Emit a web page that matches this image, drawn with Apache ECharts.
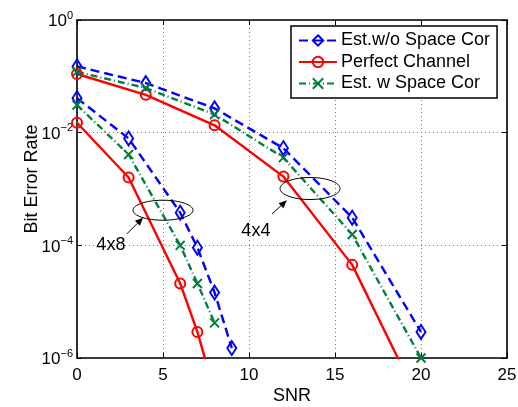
<!DOCTYPE html>
<html>
<head>
<meta charset="utf-8">
<script src="https://cdn.jsdelivr.net/npm/echarts@6/dist/echarts.min.js"></script>
<style>
  html, body { margin: 0; padding: 0; background: #fff; }
  #main { width: 518px; height: 407px; }
</style>
</head>
<body>
<div id="main"></div>
<script>
// 4x8 system
const snr4x8 = [0, 3, 6, 7, 8, 9];
const noCor4x8 = [0.041, 7.9e-3, 3.8e-4, 9.1e-5, 1.45e-5, 1.5e-6];
const snr4x8b = [0, 3, 6, 7, 8];
const perfect4x8 = [0.015, 1.6e-3, 2.1e-5, 2.9e-6, 2.5e-7];
const spaceCor4x8 = [0.031, 4.1e-3, 1.0e-4, 2.1e-5, 4.2e-6];

// 4x4 system
const snr4x4 = [0, 4, 8, 12, 16, 20];
const noCor4x4 = [0.15, 0.076, 0.027, 5.3e-3, 3.1e-4, 2.9e-6];
const perfect4x4 = [0.11, 0.047, 0.0135, 1.66e-3, 4.5e-5, 1.45e-7];
const spaceCor4x4 = [0.12, 0.062, 0.021, 3.6e-3, 1.56e-4, 1.0e-6];

const xTicks = [0, 5, 10, 15, 20, 25];
const yExponents = [0, -2, -4, -6];

const names = ['Est.w/o Space Cor', 'Perfect Channel', 'Est. w Space Cor'];

var font = 'Liberation Sans, Arial, Helvetica, sans-serif';
var chart = echarts.init(document.getElementById('main'));

function pairs(xs, ys) {
  return xs.map(function (x, i) { return [x, ys[i]]; });
}

var styles = {
  noCor: {
    color: '#0000ff', symbol: 'diamond', symbolSize: [9, 14],
    line: { color: '#0000ff', width: 2.4, type: [9, 5] }
  },
  perfect: {
    color: '#ff0000', symbol: 'circle', symbolSize: 10,
    line: { color: '#ff0000', width: 2.4, type: 'solid' }
  },
  spaceCor: {
    color: '#00803f', symbol: 'path://M0,0L10,10M10,0L0,10', symbolSize: 9,
    line: { color: '#00803f', width: 2.4, type: [7, 3, 1, 3] }
  }
};

function makeSeries(name, st, data) {
  return {
    name: name,
    type: 'line',
    data: data,
    symbol: st.symbol,
    symbolSize: st.symbolSize,
    showAllSymbol: true,
    clip: true,
    lineStyle: st.line,
    itemStyle: { color: 'rgba(0,0,0,0)', borderColor: st.color, borderWidth: 2 },
    emphasis: { disabled: true },
    animation: false
  };
}

var series = [
  makeSeries(names[0], styles.noCor, pairs(snr4x4, noCor4x4)),
  makeSeries(names[1], styles.perfect, pairs(snr4x4, perfect4x4)),
  makeSeries(names[2], styles.spaceCor, pairs(snr4x4, spaceCor4x4)),
  makeSeries(names[0], styles.noCor, pairs(snr4x8, noCor4x8)),
  makeSeries(names[1], styles.perfect, pairs(snr4x8b, perfect4x8)),
  makeSeries(names[2], styles.spaceCor, pairs(snr4x8b, spaceCor4x8))
];

var gridLine = { show: true, lineStyle: { color: '#777', type: [1, 3], width: 1 } };
var axisLine = { show: true, onZero: false, lineStyle: { color: '#000', width: 1.6 } };
var tick = { show: true, inside: true, length: 5, lineStyle: { color: '#000', width: 1 } };

var option = {
  animation: false,
  backgroundColor: '#fff',
  grid: { left: 77, right: 11, top: 20, bottom: 49, containLabel: false, outerBoundsMode: 'none' },
  legend: {
    data: names,
    orient: 'vertical',
    left: 291,
    top: 26,
    padding: [4, 7, 4, 7],
    itemWidth: 38,
    itemHeight: 13,
    itemGap: 0.5,
    backgroundColor: '#fff',
    borderColor: '#000',
    borderWidth: 1.5,
    borderRadius: 0,
    selectedMode: false,
    textStyle: { fontFamily: font, fontSize: 18, color: '#000', lineHeight: 21, padding: [0, 0, 0, -1] }
  },
  xAxis: [{
    type: 'value',
    min: xTicks[0],
    max: xTicks[xTicks.length - 1],
    interval: 5,
    name: 'SNR',
    nameLocation: 'middle',
    nameGap: 29,
    nameMoveOverlap: false,
    nameTextStyle: { fontFamily: font, fontSize: 18, color: '#000' },
    axisLine: axisLine,
    axisTick: tick,
    splitLine: gridLine,
    axisLabel: { fontFamily: font, fontSize: 17, color: '#000', margin: 9 }
  }, {
    type: 'value',
    position: 'top',
    min: xTicks[0],
    max: xTicks[xTicks.length - 1],
    interval: 5,
    axisLine: axisLine,
    axisTick: tick,
    splitLine: { show: false },
    axisLabel: { show: false }
  }],
  yAxis: [{
    type: 'log',
    logBase: 10,
    min: Math.pow(10, yExponents[yExponents.length - 1]),
    max: Math.pow(10, yExponents[0]),
    interval: 2,
    name: 'Bit Error Rate',
    nameLocation: 'middle',
    nameGap: 36,
    nameMoveOverlap: false,
    nameTextStyle: { fontFamily: font, fontSize: 18, color: '#000', padding: [0, 0, 0, 20] },
    axisLine: axisLine,
    axisTick: tick,
    splitLine: gridLine,
    minorTick: { show: false },
    axisLabel: {
      margin: 4,
      formatter: function (v) {
        var e = Math.round(Math.log10(v));
        return '{b|10}{s|' + (e === 0 ? '0' : '\u2212' + (-e)) + '}';
      },
      rich: {
        b: { fontFamily: font, fontSize: 17, color: '#000', lineHeight: 20, verticalAlign: 'bottom' },
        s: { fontFamily: font, fontSize: 11, color: '#000', lineHeight: 20, verticalAlign: 'top', padding: [0, 0, 6, 0] }
      }
    }
  }, {
    type: 'log',
    logBase: 10,
    position: 'right',
    min: Math.pow(10, yExponents[yExponents.length - 1]),
    max: Math.pow(10, yExponents[0]),
    interval: 2,
    axisLine: axisLine,
    axisTick: tick,
    splitLine: { show: false },
    axisLabel: { show: false }
  }],
  series: series
};

chart.setOption(option);

// annotations in data coordinates: ellipse centre, arrow tail/head, label
const notes = [
  { label: '4x8', cx: 5.0, cy: 4.2e-4, rx: 30, ry: 10, tail: [2.9, 1.6e-4], head: [3.84, 3.1e-4], text: [1.97, 1.02e-4] },
  { label: '4x4', cx: 13.55, cy: 1.02e-3, rx: 30, ry: 11, tail: [11.34, 3.6e-4], head: [12.2, 6.3e-4], text: [10.4, 1.8e-4] }
];

function px(p) { return chart.convertToPixel({ xAxisIndex: 0, yAxisIndex: 0 }, p); }

var graphics = [];
notes.forEach(function (n) {
  var c = px([n.cx, n.cy]);
  graphics.push({
    type: 'ellipse', silent: true,
    shape: { cx: c[0], cy: c[1], rx: n.rx, ry: n.ry },
    style: { fill: 'none', stroke: '#000', lineWidth: 1 }, z: 10
  });
  var t = px(n.tail), h = px(n.head);
  var ang = Math.atan2(h[1] - t[1], h[0] - t[0]);
  var L = 8, W = 3.5;
  var bx = h[0] - L * Math.cos(ang), by = h[1] - L * Math.sin(ang);
  graphics.push({
    type: 'line', silent: true,
    shape: { x1: t[0], y1: t[1], x2: bx, y2: by },
    style: { stroke: '#000', lineWidth: 1 }, z: 10
  });
  graphics.push({
    type: 'polygon', silent: true,
    shape: { points: [
      [h[0], h[1]],
      [bx + W * Math.sin(ang), by - W * Math.cos(ang)],
      [bx - W * Math.sin(ang), by + W * Math.cos(ang)]
    ] },
    style: { fill: '#000' }, z: 10
  });
  var tp = px(n.text);
  graphics.push({
    type: 'text', silent: true, x: tp[0], y: tp[1],
    style: { text: n.label, fontFamily: font, fontSize: 18, fill: '#000', align: 'center', verticalAlign: 'middle' }, z: 10
  });
});

chart.setOption({ graphic: graphics });
</script>
</body>
</html>
